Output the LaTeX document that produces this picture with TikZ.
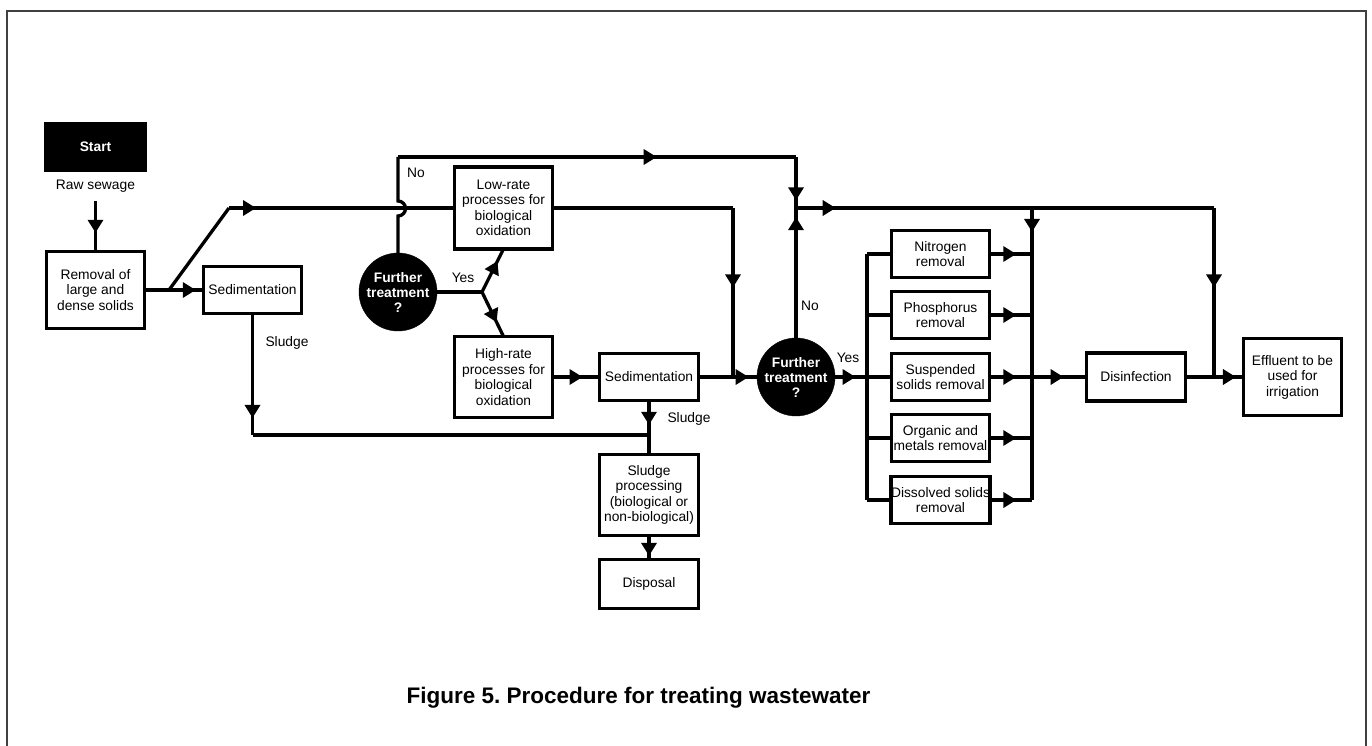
\documentclass[tikz,border=0pt]{standalone}
\usepackage{fontspec}
\setmainfont{Liberation Sans}
\usetikzlibrary{arrows.meta,decorations.markings,shapes.geometric}
\frenchspacing
\begin{document}
\begin{tikzpicture}[x=1pt,y=-1pt,
  ln/.style={line width=3.3pt},
  box/.style={draw, line width=3.3pt, rectangle, inner sep=0pt, outer sep=0pt, align=center,
    font=\fontsize{13.8}{15.5}\selectfont, minimum width=98pt},
  dec/.style={circle, fill=black, draw=black, inner sep=0pt, minimum size=78pt, text=white,
    align=center, font=\bfseries\fontsize{13.8}{15}\selectfont},
  lbl/.style={font=\fontsize{13.8}{15.5}\selectfont, inner sep=0pt},
  arr/.style={postaction={decorate,decoration={markings,
    mark=at position #1 with {\arrow{Triangle[length=13pt,width=15pt]}}}}},
]
\useasboundingbox (0,0) rectangle (1372,746);
\draw[line width=2pt, black!75] (7,750) -- (7,11) -- (1366,11) -- (1366,750);

% nodes
\node[fill=black, minimum width=103pt, minimum height=50pt, inner sep=0pt, text=white,
  font=\bfseries\fontsize{13.8}{15}\selectfont] (start) at (95.5,147) {Start};
\node[lbl] (raw) at (95.5,186) {Raw sewage};
\coordinate (rawend) at (95.5,201);
\node[box, minimum height=77pt] (removal) at (95.5,290) {Removal of\\large and\\dense solids};
\node[box, minimum height=47pt] (sed1) at (252.5,290) {Sedimentation};
\node[box, minimum height=82pt] (low) at (503.5,208) {Low-rate\\processes for\\biological\\oxidation};
\node[box, minimum height=81pt] (high) at (503.5,377) {High-rate\\processes for\\biological\\oxidation};
\node[box, minimum height=47pt, minimum width=99pt] (sed2) at (649,377) {Sedimentation};
\node[box, minimum height=81pt, minimum width=99pt] (sproc) at (649,495) {Sludge\\processing\\(biological or\\non-biological)};
\node[box, minimum height=49pt, minimum width=99pt] (disp) at (649,584) {Disposal};
\node[dec] (c1) at (398,292) {Further\\treatment\\?};
\node[dec] (c2) at (796,377) {Further\\treatment\\?};
\node[box, minimum height=47pt] (nitro) at (940.5,254) {Nitrogen\\removal};
\node[box, minimum height=47pt] (phos) at (940.5,315) {Phosphorus\\removal};
\node[box, minimum height=47pt] (susp) at (940.5,377) {Suspended\\solids removal};
\node[box, minimum height=47pt] (org) at (940.5,438) {Organic and\\metals removal};
\node[box, minimum height=47pt] (diss) at (940.5,500) {Dissolved solids\\removal};
\node[box, minimum height=48pt, minimum width=99pt] (disinf) at (1136,377) {Disinfection};
\node[box, minimum height=77pt] (eff) at (1292.5,377) {Effluent to be\\used for\\irrigation};

% labels
\node[lbl] (no1) at (416,173) {No};
\node[lbl] (yes1) at (463,278) {Yes};
\node[lbl] (sl1lbl) at (287,343) {Sludge};
\node[lbl] (sl2lbl) at (689,419) {Sludge};
\node[lbl] (no2) at (810,306) {No};
\node[lbl] (yes2) at (848,358) {Yes};
\node[font=\bfseries\fontsize{22.5}{26}\selectfont, anchor=base, inner sep=0pt] (cap) at (638.5,703)
  {Figure 5. Procedure for treating wastewater};

% coordinates
\coordinate (j1) at (169,290);
\coordinate (b1) at (229,208);
\coordinate (hop) at (398,216);
\coordinate (top1) at (398,157);
\coordinate (top2) at (796,157);
\coordinate (jn) at (796,208);
\coordinate (rt1) at (733,208);
\coordinate (jm) at (733,377);
\coordinate (fork) at (482,292);
\coordinate (sl1) at (252.5,435);
\coordinate (sl2) at (649,435);
\coordinate (lb1) at (867,254);
\coordinate (lb5) at (867,500);
\coordinate (lbm) at (867,377);
\coordinate (rb0) at (1032,208);
\coordinate (rb5) at (1032,500);
\coordinate (rbm) at (1032,377);
\coordinate (tr) at (1214,208);
\coordinate (trm) at (1214,377);

% connectors
\draw[ln,arr=0.63] (rawend) -- (removal.north);
\draw[ln,arr=0.87] (removal.east) -- (sed1.west);
\draw[ln] (j1) -- (b1);
\draw[ln,arr=0.12] (b1) -- (low.west);
\draw[ln] (low.east) -- (rt1);
\draw[ln,arr=0.47] (rt1) -- (jm);
\draw[ln] (c1.north) -- (hop) arc[start angle=90, end angle=-90, radius=7.5] -- (top1);
\draw[ln,arr=0.65] (top1) -- (top2);
\draw[ln,arr=0.85] (top2) -- (jn);
\draw[ln,arr=0.93] (c2.north) -- (jn);
\draw[ln,arr=0.095] (jn) -- (tr);
\draw[ln,arr=0.47] (tr) -- (trm);
\draw[ln,arr=0.87] (disinf.east) -- (eff.west);
\draw[ln] (c1.east) -- (fork);
\draw[ln,arr=0.72] (fork) -- (low.south);
\draw[ln,arr=0.68] (fork) -- (high.north);
\draw[ln,arr=0.64] (high.east) -- (sed2.west);
\draw[ln,arr=0.86] (sed2.east) -- (c2.west);
\draw[ln,arr=0.86] (sed1.south) -- (sl1);
\draw[ln] (sl1) -- (sl2);
\draw[ln,arr=0.45] (sed2.south) -- (sproc.north);
\draw[ln,arr=0.85] (sproc.south) -- (disp.north);
\draw[ln,arr=0.64] (c2.east) -- (lbm);
\draw[ln] (lb1) -- (lb5);
\draw[ln] (lb1) -- (nitro.west);
\draw[ln] (lbm |- phos.west) -- (phos.west);
\draw[ln] (lbm) -- (susp.west);
\draw[ln] (lbm |- org.west) -- (org.west);
\draw[ln] (lb5) -- (diss.west);
\draw[ln,arr=0.63] (nitro.east) -- (nitro.east -| rb0);
\draw[ln,arr=0.63] (phos.east) -- (phos.east -| rb0);
\draw[ln,arr=0.63] (susp.east) -- (susp.east -| rb0);
\draw[ln,arr=0.63] (org.east) -- (org.east -| rb0);
\draw[ln,arr=0.63] (diss.east) -- (diss.east -| rb0);
\draw[ln,arr=0.082] (rb0) -- (rb5);
\draw[ln,arr=0.58] (rbm) -- (disinf.west);
\end{tikzpicture}
\end{document}
